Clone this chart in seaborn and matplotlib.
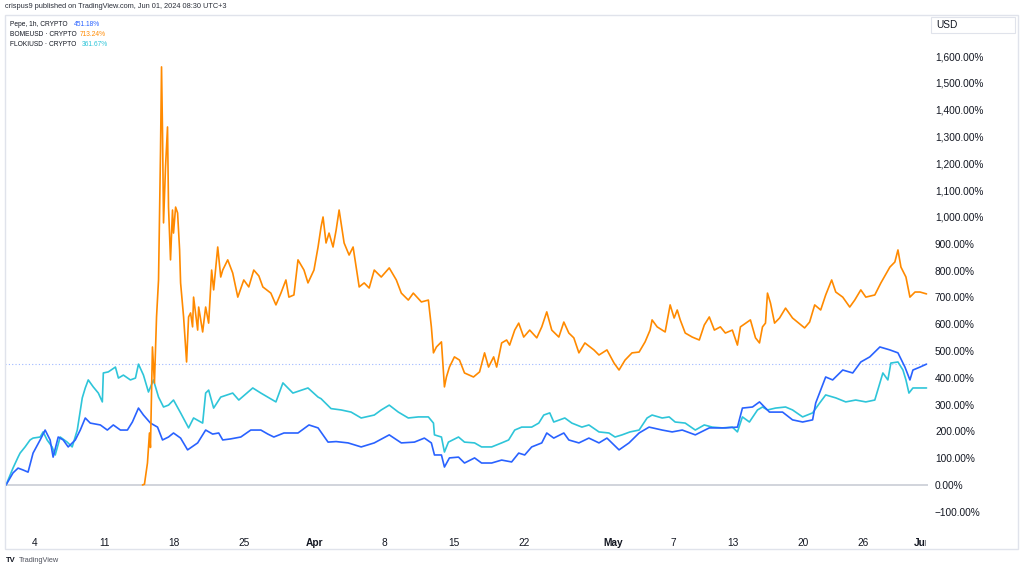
import pandas as pd
import matplotlib.pyplot as plt
from matplotlib.patches import Rectangle
from matplotlib.ticker import FuncFormatter
from matplotlib.transforms import Bbox, TransformedBbox
import seaborn as sns

# days since 2024-03-01 00:00 and % change
START = pd.Timestamp("2024-03-01 00:00")

pepe_days = [0.14, 0.84, 1.35, 1.85, 2.35, 2.85, 3.56, 4.06, 4.56, 4.86,
             5.37, 5.87, 6.37, 7.08, 7.58, 8.08, 8.58, 9.59, 10.29, 10.89,
             11.60, 12.30, 12.80, 13.41, 13.91, 14.61, 15.32, 15.82, 16.42, 16.92,
             17.63, 18.33, 19.34, 20.14, 20.84, 21.45, 21.85, 22.65, 23.66, 24.66,
             25.67, 26.37, 26.97, 27.98, 29.39, 30.49, 31.40, 32.40, 33.21, 34.41,
             35.72, 37.03, 38.53, 39.74, 41.05, 42.05, 42.75, 43.06, 43.76, 44.06,
             44.56, 45.47, 46.07, 47.08, 47.78, 48.79, 49.79, 50.79, 51.50, 52.10,
             52.80, 53.81, 54.31, 55.01, 56.02, 56.52, 57.53, 58.53, 59.54, 60.34,
             61.55, 62.55, 63.56, 64.56, 65.87, 66.87, 67.88, 69.19, 70.59, 72.20,
             73.41, 73.91, 74.92, 75.62, 76.62, 77.93, 78.93, 79.94, 80.94, 81.25,
             82.25, 82.95, 83.96, 84.96, 85.77, 86.67, 87.68, 88.68, 89.49, 90.19,
             90.69, 90.99, 91.70, 92.35]
pepe_pct = [0, 45, 63, 56, 48, 119, 168, 205, 168, 104,
            179, 168, 142, 168, 205, 250, 231, 224, 205, 224,
            205, 205, 235, 287, 261, 231, 216, 168, 179, 194,
            175, 131, 157, 205, 190, 194, 168, 172, 179, 205,
            205, 190, 179, 194, 194, 224, 213, 160, 162, 157,
            142, 157, 187, 157, 160, 175, 157, 112, 112, 67,
            101, 104, 82, 101, 82, 82, 93, 86, 119, 112,
            142, 157, 194, 175, 194, 168, 157, 175, 157, 175,
            131, 157, 194, 216, 205, 198, 205, 187, 213, 213,
            216, 287, 291, 310, 272, 272, 243, 235, 243, 306,
            403, 392, 429, 418, 459, 478, 515, 504, 493, 440,
            392, 429, 440, 451]

floki_days = [0.14, 0.84, 1.35, 1.55, 2.05, 2.55, 2.85, 3.56, 3.86, 4.26,
              4.76, 5.07, 5.57, 6.27, 6.77, 7.28, 7.78, 8.08, 8.38, 8.88,
              9.39, 9.79, 9.89, 10.39, 11.10, 11.40, 11.90, 12.60, 13.11, 13.41,
              13.91, 14.41, 14.91, 15.42, 15.92, 16.42, 16.92, 17.63, 18.43, 18.93,
              19.84, 20.14, 20.44, 20.94, 21.65, 22.85, 23.46, 24.86, 25.67, 27.18,
              27.88, 28.88, 30.39, 31.40, 31.70, 32.70, 33.71, 34.71, 35.72, 37.03,
              37.73, 38.53, 39.44, 40.44, 41.45, 42.45, 42.96, 43.06, 43.76, 44.06,
              44.46, 45.47, 46.07, 47.08, 47.78, 48.79, 49.79, 50.49, 51.10, 51.80,
              52.80, 53.51, 54.01, 54.61, 55.01, 56.12, 56.82, 57.83, 58.53, 59.54,
              60.54, 61.15, 61.85, 62.65, 63.56, 64.36, 64.86, 65.87, 66.57, 67.17,
              68.18, 69.19, 70.09, 70.89, 71.90, 72.90, 73.41, 73.91, 74.61, 75.42,
              75.92, 76.42, 77.23, 78.23, 78.93, 79.94, 80.94, 81.65, 82.25, 83.26,
              84.26, 85.26, 86.27, 87.17, 87.68, 87.98, 88.48, 88.78, 89.49, 89.99,
              90.29, 90.59, 90.99, 91.70, 92.35]
floki_pct = [0, 63, 104, 119, 142, 168, 175, 179, 198, 168,
             142, 112, 179, 160, 142, 205, 325, 362, 392, 366,
             343, 310, 418, 422, 440, 399, 410, 392, 399, 451,
             410, 347, 392, 328, 291, 298, 317, 269, 213, 250,
             231, 343, 354, 287, 328, 343, 317, 362, 343, 310,
             381, 343, 362, 328, 322, 285, 280, 272, 250, 261,
             280, 298, 272, 250, 254, 254, 231, 187, 179, 123,
             160, 179, 160, 157, 142, 142, 157, 168, 205, 216,
             216, 231, 261, 269, 235, 250, 231, 216, 224, 198,
             194, 179, 187, 198, 205, 250, 261, 250, 254, 235,
             231, 205, 224, 216, 213, 216, 198, 254, 235, 280,
             291, 280, 287, 291, 280, 254, 269, 306, 336, 325,
             310, 317, 310, 317, 381, 418, 392, 455, 459, 429,
             392, 343, 362, 362, 362]

bome_days = [13.81, 14.01, 14.31, 14.51, 14.61, 14.81, 15.01, 15.22, 15.42, 15.62,
             15.72, 15.82, 15.92, 16.12, 16.32, 16.42, 16.62, 16.82, 16.92, 17.13,
             17.33, 17.53, 17.63, 17.93, 18.23, 18.43, 18.63, 18.83, 18.93, 19.34,
             19.44, 19.84, 20.14, 20.44, 20.74, 20.94, 21.35, 21.65, 21.85, 22.35,
             22.85, 23.36, 23.96, 24.46, 24.96, 25.47, 25.87, 26.67, 27.18, 27.68,
             28.18, 28.48, 28.98, 29.39, 29.99, 30.39, 30.99, 31.40, 31.70, 31.90,
             32.20, 32.50, 32.90, 33.21, 33.51, 34.01, 34.51, 34.91, 35.22, 35.52,
             36.02, 36.52, 37.03, 37.73, 38.53, 39.24, 39.74, 40.44, 40.94, 41.75,
             42.45, 42.75, 42.96, 43.26, 43.76, 44.06, 44.26, 44.56, 45.06, 45.57,
             46.07, 46.97, 47.58, 48.08, 48.48, 48.99, 49.29, 49.79, 50.29, 50.59,
             51.10, 51.50, 52.00, 52.60, 53.31, 53.81, 54.31, 54.81, 55.52, 56.02,
             56.52, 57.02, 57.53, 58.13, 59.03, 59.54, 60.34, 61.05, 61.55, 62.15,
             62.85, 63.56, 64.16, 64.66, 64.86, 65.37, 66.17, 66.67, 67.07, 67.38,
             67.68, 68.18, 68.88, 69.59, 70.09, 70.59, 71.10, 71.70, 72.20, 72.90,
             73.41, 73.71, 74.71, 75.22, 75.62, 75.92, 76.22, 76.42, 76.72, 77.13,
             77.63, 78.23, 78.93, 80.14, 80.64, 81.15, 81.75, 82.25, 82.85, 83.26,
             83.96, 84.66, 85.16, 85.77, 86.27, 87.17, 87.78, 88.68, 89.18, 89.49,
             89.79, 90.29, 90.69, 91.20, 91.70, 92.35]
bome_pct = [0, 3, 82, 194, 140, 515, 380, 627, 765, 1250,
            1560, 1313, 978, 1187, 1336, 1037, 840, 1026, 940, 1037,
            1015, 877, 754, 627, 459, 627, 642, 590, 701, 578,
            664, 571, 664, 604, 802, 728, 888, 776, 802, 840,
            791, 701, 765, 739, 802, 780, 739, 716, 672, 716,
            765, 701, 709, 840, 802, 754, 802, 888, 963, 1000,
            903, 940, 888, 951, 1026, 903, 858, 888, 813, 739,
            754, 735, 802, 776, 810, 765, 716, 690, 716, 683,
            690, 590, 493, 515, 534, 366, 403, 440, 478, 466,
            418, 403, 422, 493, 440, 478, 440, 530, 541, 522,
            578, 604, 552, 578, 549, 590, 646, 578, 552, 608,
            567, 549, 493, 530, 504, 485, 504, 455, 429, 466,
            493, 496, 534, 578, 616, 590, 571, 672, 623, 653,
            616, 567, 552, 541, 597, 627, 578, 590, 567, 578,
            522, 590, 616, 549, 530, 590, 604, 716, 679, 604,
            623, 660, 623, 586, 608, 672, 653, 709, 765, 720,
            701, 664, 690, 728, 701, 709, 754, 813, 832, 877,
            813, 776, 701, 720, 720, 713]

tick_dates = ["2024-03-04", "2024-03-11", "2024-03-18", "2024-03-25", "2024-04-01",
              "2024-04-08", "2024-04-15", "2024-04-22", "2024-05-01", "2024-05-07",
              "2024-05-13", "2024-05-20", "2024-05-26", "2024-06-01"]
tick_labels = ["4", "11", "18", "25", "Apr", "8", "15", "22", "May", "7",
               "13", "20", "26", "Jun"]
month_labels = ["Apr", "May", "Jun"]
y_ticks = list(range(-100, 1700, 100))

legend_names = ["Pepe, 1h, CRYPTO", "BOMEUSD · CRYPTO", "FLOKIUSD · CRYPTO"]
legend_values = ["451.18%", "713.24%", "361.67%"]
pepe_last = 451.18

BLUE = "#2962FF"
ORANGE = "#FF8A00"
CYAN = "#2EC5D9"
TEXT = "#131722"
BORDER = "#E0E3EB"

W, H = 1024, 570


def fx(px):
    return px / W


def fy(py):
    return 1 - py / H


def series_frame(days, pct):
    return pd.DataFrame({"date": START + pd.to_timedelta(days, unit="D"), "pct": pct})


sns.set_theme(style="white")
plt.rcParams["font.family"] = ["Liberation Sans", "DejaVu Sans"]

fig = plt.figure(figsize=(W / 100, H / 100), dpi=100)
ax = fig.add_axes([fx(5), fy(525), fx(928) - fx(5), fy(15) - fy(525)])

# baseline and last-value marker of the main symbol
ax.axhline(0, color="#D1D4DC", lw=1.4, zorder=1)
ax.axhline(pepe_last, color=BLUE, lw=0.8, ls=(0, (1, 2)), alpha=0.45, zorder=1)

sns.lineplot(data=series_frame(floki_days, floki_pct), x="date", y="pct",
             color=CYAN, lw=1.2, estimator=None, sort=False, ax=ax, zorder=2)
sns.lineplot(data=series_frame(pepe_days, pepe_pct), x="date", y="pct",
             color=BLUE, lw=1.2, estimator=None, sort=False, ax=ax, zorder=3)
sns.lineplot(data=series_frame(bome_days, bome_pct), x="date", y="pct",
             color=ORANGE, lw=1.2, estimator=None, sort=False, ax=ax, zorder=4)

ax.set_xlim(START + pd.Timedelta(days=0.04), START + pd.Timedelta(days=92.5))
ax.set_ylim(-149.3, 1753.7)
ax.set_xlabel("")
ax.set_ylabel("")
for s in ax.spines.values():
    s.set_visible(False)

# price scale on the right
ax.yaxis.tick_right()
ax.set_yticks(y_ticks)
ax.yaxis.set_major_formatter(FuncFormatter(
    lambda v, pos: f"{v:,.2f}%".replace("-", "\u2212")))
ax.tick_params(axis="y", length=0, pad=5, labelsize=7.3, labelcolor=TEXT)

# time scale
ax.set_xticks(pd.to_datetime(tick_dates))
ax.set_xticklabels(tick_labels)
ax.tick_params(axis="x", length=0, pad=9, labelsize=7.3, labelcolor=TEXT)
clip = TransformedBbox(Bbox([[0, 0], [fx(926), 1]]), fig.transFigure)
for lbl in ax.get_xticklabels():
    if lbl.get_text() in month_labels:
        lbl.set_fontweight("bold")
    lbl.set_clip_box(clip)
    lbl.set_clip_on(True)

# pane border and currency box
fig.patches.append(Rectangle((fx(5), fy(549)), fx(1018) - fx(5), fy(15) - fy(549),
                             transform=fig.transFigure, fill=False, ec=BORDER, lw=1))
fig.patches.append(Rectangle((fx(931), fy(33)), fx(1015) - fx(931), fy(17) - fy(33),
                             transform=fig.transFigure, fc="white", ec=BORDER, lw=0.8))
fig.text(fx(936), fy(25), "USD", fontsize=7.3, color=TEXT, va="center", fontweight="medium")

# header and legend
fig.text(fx(5), fy(7), "crispus9 published on TradingView.com, Jun 01, 2024 08:30 UTC+3",
         fontsize=5.3, color="#2A2E39", va="center")
value_x = [74, 80, 82]
for i, (name, val, col) in enumerate(zip(legend_names, legend_values, [BLUE, ORANGE, CYAN])):
    y = 24 + i * 10
    fig.text(fx(10), fy(y), name, fontsize=4.8, color=TEXT, va="center")
    fig.text(fx(value_x[i]), fy(y), val, fontsize=4.8, color=col, va="center")

# footer logo
fig.text(fx(6), fy(560), "TV", fontsize=5.5, color=TEXT, va="center", fontweight="bold")
fig.text(fx(19), fy(560), "TradingView", fontsize=5.3, color="#50535E", va="center")

fig.savefig("out.png", dpi=100)
